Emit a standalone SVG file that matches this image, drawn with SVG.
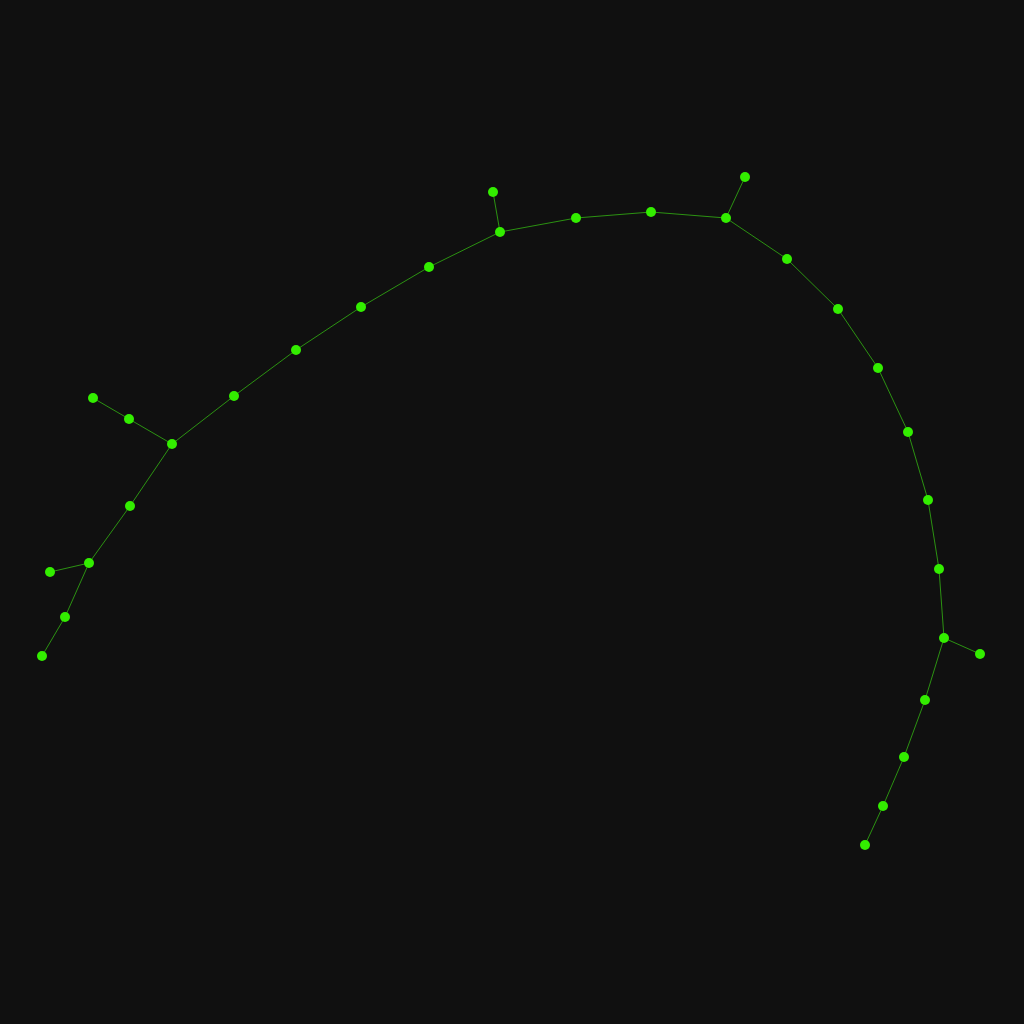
<svg xmlns="http://www.w3.org/2000/svg" width="1024" height="1024" viewBox="0 0 1024 1024">
<style>
.e{stroke:#2fa012;stroke-width:0.9;fill:none}
.n{fill:#33ee00}
</style>
<rect width="1024" height="1024" fill="#101010"/>
<g id="edges">
<line class="e" x1="493" y1="192" x2="500" y2="232"/>
<line class="e" x1="500" y1="232" x2="576" y2="218"/>
<line class="e" x1="576" y1="218" x2="651" y2="212"/>
<line class="e" x1="651" y1="212" x2="726" y2="218"/>
<line class="e" x1="726" y1="218" x2="745" y2="177"/>
<line class="e" x1="726" y1="218" x2="787" y2="259"/>
<line class="e" x1="787" y1="259" x2="838" y2="309"/>
<line class="e" x1="838" y1="309" x2="878" y2="368"/>
<line class="e" x1="878" y1="368" x2="908" y2="432"/>
<line class="e" x1="908" y1="432" x2="928" y2="500"/>
<line class="e" x1="928" y1="500" x2="939" y2="569"/>
<line class="e" x1="939" y1="569" x2="944" y2="638"/>
<line class="e" x1="944" y1="638" x2="980" y2="654"/>
<line class="e" x1="944" y1="638" x2="925" y2="700"/>
<line class="e" x1="925" y1="700" x2="904" y2="757"/>
<line class="e" x1="904" y1="757" x2="883" y2="806"/>
<line class="e" x1="883" y1="806" x2="865" y2="845"/>
<line class="e" x1="500" y1="232" x2="429" y2="267"/>
<line class="e" x1="429" y1="267" x2="361" y2="307"/>
<line class="e" x1="361" y1="307" x2="296" y2="350"/>
<line class="e" x1="296" y1="350" x2="234" y2="396"/>
<line class="e" x1="234" y1="396" x2="172" y2="444"/>
<line class="e" x1="172" y1="444" x2="129" y2="419"/>
<line class="e" x1="129" y1="419" x2="93" y2="398"/>
<line class="e" x1="172" y1="444" x2="130" y2="506"/>
<line class="e" x1="130" y1="506" x2="89" y2="563"/>
<line class="e" x1="89" y1="563" x2="50" y2="572"/>
<line class="e" x1="89" y1="563" x2="65" y2="617"/>
<line class="e" x1="65" y1="617" x2="42" y2="656"/>
</g>
<g id="nodes">
<circle id="n1" class="n" cx="493" cy="192" r="5"/>
<circle id="n2" class="n" cx="500" cy="232" r="5"/>
<circle id="n3" class="n" cx="576" cy="218" r="5"/>
<circle id="n4" class="n" cx="651" cy="212" r="5"/>
<circle id="n5" class="n" cx="726" cy="218" r="5"/>
<circle id="n6" class="n" cx="745" cy="177" r="5"/>
<circle id="n7" class="n" cx="787" cy="259" r="5"/>
<circle id="n8" class="n" cx="838" cy="309" r="5"/>
<circle id="n9" class="n" cx="878" cy="368" r="5"/>
<circle id="n10" class="n" cx="908" cy="432" r="5"/>
<circle id="n11" class="n" cx="928" cy="500" r="5"/>
<circle id="n12" class="n" cx="939" cy="569" r="5"/>
<circle id="n13" class="n" cx="944" cy="638" r="5"/>
<circle id="n14" class="n" cx="980" cy="654" r="5"/>
<circle id="n15" class="n" cx="925" cy="700" r="5"/>
<circle id="n16" class="n" cx="904" cy="757" r="5"/>
<circle id="n17" class="n" cx="883" cy="806" r="5"/>
<circle id="n18" class="n" cx="865" cy="845" r="5"/>
<circle id="n19" class="n" cx="429" cy="267" r="5"/>
<circle id="n20" class="n" cx="361" cy="307" r="5"/>
<circle id="n21" class="n" cx="296" cy="350" r="5"/>
<circle id="n22" class="n" cx="234" cy="396" r="5"/>
<circle id="n23" class="n" cx="172" cy="444" r="5"/>
<circle id="n24" class="n" cx="129" cy="419" r="5"/>
<circle id="n25" class="n" cx="93" cy="398" r="5"/>
<circle id="n26" class="n" cx="130" cy="506" r="5"/>
<circle id="n27" class="n" cx="89" cy="563" r="5"/>
<circle id="n28" class="n" cx="50" cy="572" r="5"/>
<circle id="n29" class="n" cx="65" cy="617" r="5"/>
<circle id="n30" class="n" cx="42" cy="656" r="5"/>
</g>
</svg>
